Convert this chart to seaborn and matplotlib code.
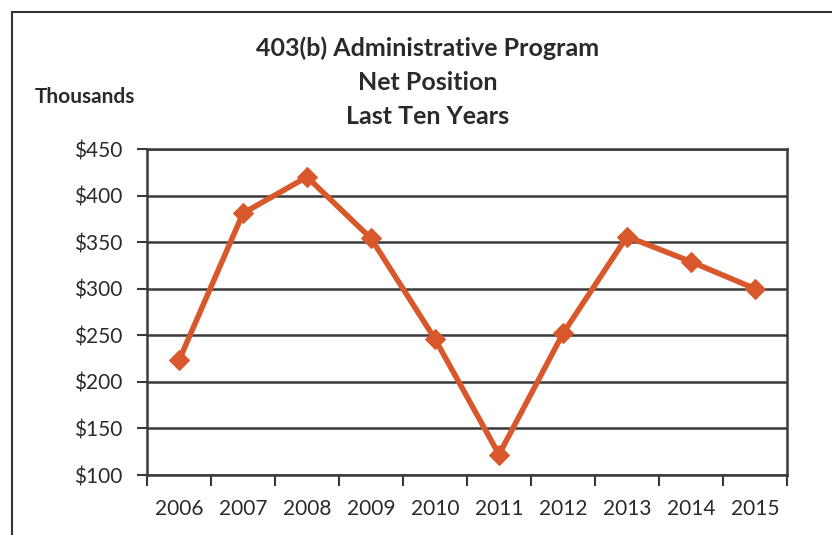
import matplotlib
matplotlib.use("Agg")
import matplotlib.pyplot as plt
import matplotlib.ticker as mtick
from matplotlib.patches import Rectangle
import seaborn as sns
import pandas as pd
import numpy as np

# chart data
years = ["2006", "2007", "2008", "2009", "2010", "2011", "2012", "2013", "2014", "2015"]
net_position = [223, 381, 420, 354, 246, 122, 252, 356, 329, 300]
y_ticks = [100, 150, 200, 250, 300, 350, 400, 450]

LINE = "#d9582b"
GRID = "#3a3a3a"
TXT = "#2a2a2a"
FONT = ["Lato", "DejaVu Sans"]

sns.set_style("white")
plt.rcParams["font.family"] = FONT

df = pd.DataFrame({"pos": np.arange(len(years)), "value": net_position})

fig = plt.figure(figsize=(8.32, 5.35), dpi=100)
ax = fig.add_axes([147 / 832, 1 - 475 / 535, 640 / 832, 326 / 535])

sns.lineplot(data=df, x="pos", y="value", ax=ax, color=LINE, linewidth=4,
             marker="D", markersize=10, markeredgecolor=LINE, zorder=3)

ax.set_xlim(-0.5, len(years) - 0.5)
ax.set_ylim(100, 450)
ax.set_yticks(y_ticks)
ax.yaxis.set_major_formatter(mtick.FuncFormatter(lambda v, p: f"${v:.0f}"))
ax.set_xticks(df["pos"])
ax.set_xticklabels(years)
ax.set_xticks(np.arange(-0.5, len(years), 1.0), minor=True)
ax.tick_params(axis="x", which="major", length=0, pad=17, labelsize=15, colors=TXT)
ax.tick_params(axis="x", which="minor", length=8, width=1.5, color=GRID, direction="out", bottom=True)
ax.tick_params(axis="y", length=7, width=1.5, color=GRID, direction="out", left=True,
               labelsize=15, labelcolor=TXT, pad=11)
ax.set_xlabel("")
ax.set_ylabel("")

ax.grid(True, axis="y", color=GRID, linewidth=1.8)
ax.set_axisbelow(True)
for s in ax.spines.values():
    s.set_visible(True)
    s.set_color(GRID)
    s.set_linewidth(1.8)

fig.text(428 / 832, 1 - 48 / 535, "403(b) Administrative Program", ha="center", va="center",
         fontsize=18, fontweight="bold", color=TXT)
fig.text(428 / 832, 1 - 83 / 535, "Net Position", ha="center", va="center",
         fontsize=18, fontweight="bold", color=TXT)
fig.text(428 / 832, 1 - 117 / 535, "Last Ten Years", ha="center", va="center",
         fontsize=18, fontweight="bold", color=TXT)
fig.text(85 / 832, 1 - 97 / 535, "Thousands", ha="center", va="center",
         fontsize=15, fontweight="bold", color=TXT)

# outer chart frame
fig.patches.append(Rectangle((12 / 832, -0.1), 1.0, 1 - 12 / 535 + 0.1, transform=fig.transFigure,
                             fill=False, edgecolor="#333333", linewidth=1.5))

plt.savefig("out.png", dpi=100)
